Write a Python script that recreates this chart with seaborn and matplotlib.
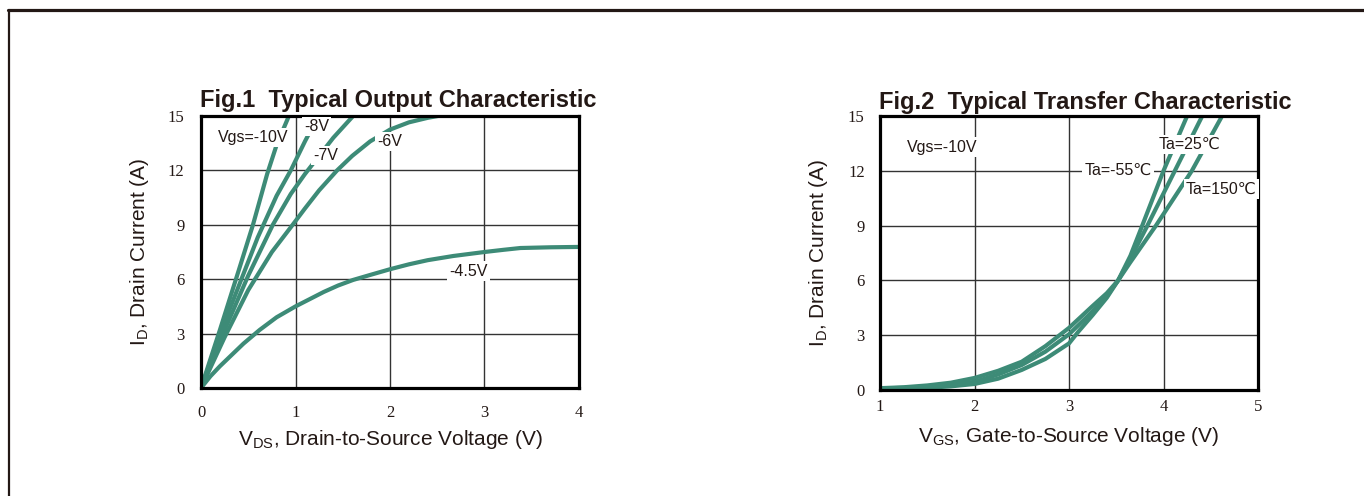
import matplotlib
matplotlib.use("Agg")
import matplotlib.pyplot as plt
from matplotlib.lines import Line2D
import seaborn as sns
import pandas as pd

# ---------------- data ----------------
# Fig.1 output characteristic (VDS in V, ID in A)
vgs_labels = ["-10V", "-8V", "-7V", "-6V", "-4.5V"]
vds_10 = [0, 0.2, 0.4, 0.55, 0.7, 0.8, 0.93]
id_10 = [0, 3.2, 6.5, 9.0, 11.8, 13.4, 15.0]
vds_8 = [0, 0.3, 0.6, 0.8, 0.95, 1.1, 1.24]
id_8 = [0, 4.3, 8.3, 10.6, 12.0, 13.6, 15.0]
vds_7 = [0, 0.25, 0.5, 0.76, 0.95, 1.1, 1.25, 1.4, 1.61]
id_7 = [0, 3.2, 6.2, 9.0, 10.7, 11.8, 12.8, 13.8, 15.0]
vds_6 = [0, 0.25, 0.5, 0.75, 0.97, 1.1, 1.25, 1.44, 1.6, 1.79, 2.0, 2.2, 2.4, 2.56, 3.0]
id_6 = [0, 2.8, 5.4, 7.5, 9.0, 9.9, 10.9, 12.0, 12.8, 13.6, 14.25, 14.65, 14.9, 15.05, 15.2]
vds_45 = [0, 0.1, 0.2, 0.31, 0.45, 0.62, 0.8, 1.0, 1.15, 1.3, 1.45, 1.61, 1.8, 2.0,
          2.2, 2.4, 2.67, 3.0, 3.2, 3.38, 3.7, 4.0]
id_45 = [0, 0.65, 1.2, 1.75, 2.45, 3.2, 3.9, 4.5, 4.9, 5.3, 5.65, 5.96, 6.25, 6.55,
         6.82, 7.05, 7.28, 7.5, 7.62, 7.72, 7.76, 7.78]

# Fig.2 transfer characteristic (VGS in V, ID in A)
ta_labels = ["Ta=-55℃", "Ta=25℃", "Ta=150℃"]
vgs_m55 = [1.0, 1.25, 1.5, 1.75, 2.0, 2.25, 2.5, 2.75, 3.0, 3.1, 3.25, 3.4, 3.52,
           3.65, 3.76, 4.0, 4.25, 4.4]
id_m55 = [0.05, 0.08, 0.12, 0.2, 0.33, 0.62, 1.1, 1.7, 2.55, 3.2, 4.1, 5.05, 6.0,
          7.35, 8.8, 12.0, 15.0, 17.0]
vgs_25 = [1.0, 1.25, 1.5, 1.75, 2.0, 2.25, 2.5, 2.75, 3.0, 3.25, 3.4, 3.52, 3.65,
          3.82, 4.12, 4.41, 4.6]
id_25 = [0.08, 0.12, 0.18, 0.28, 0.45, 0.85, 1.37, 2.1, 3.05, 4.3, 5.15, 6.0, 7.2,
         8.9, 12.0, 15.0, 17.0]
vgs_150 = [1.0, 1.25, 1.5, 1.75, 2.0, 2.25, 2.5, 2.75, 3.0, 3.25, 3.4, 3.52, 3.65,
           3.92, 4.30, 4.62, 4.8]
id_150 = [0.1, 0.15, 0.25, 0.4, 0.66, 1.05, 1.55, 2.4, 3.4, 4.6, 5.3, 6.0, 7.0,
          9.0, 12.0, 15.0, 16.6]

x1_ticks = [0, 1, 2, 3, 4]
x2_ticks = [1, 2, 3, 4, 5]
y_ticks = [0, 3, 6, 9, 12, 15]

# ---------------- build frames ----------------
df1 = pd.concat([
    pd.DataFrame({"x": vds_10, "y": id_10, "s": vgs_labels[0]}),
    pd.DataFrame({"x": vds_8, "y": id_8, "s": vgs_labels[1]}),
    pd.DataFrame({"x": vds_7, "y": id_7, "s": vgs_labels[2]}),
    pd.DataFrame({"x": vds_6, "y": id_6, "s": vgs_labels[3]}),
    pd.DataFrame({"x": vds_45, "y": id_45, "s": vgs_labels[4]}),
], ignore_index=True)
df2 = pd.concat([
    pd.DataFrame({"x": vgs_m55, "y": id_m55, "s": ta_labels[0]}),
    pd.DataFrame({"x": vgs_25, "y": id_25, "s": ta_labels[1]}),
    pd.DataFrame({"x": vgs_150, "y": id_150, "s": ta_labels[2]}),
], ignore_index=True)

sns.set_style("white")
plt.rcParams["font.family"] = ["Liberation Sans", "DejaVu Sans"]
plt.rcParams["mathtext.fontset"] = "custom"
plt.rcParams["mathtext.rm"] = "Liberation Sans"

TEAL = "#3d8b77"
INK = "#231815"
W, H = 1364, 496
fig = plt.figure(figsize=(W / 100, H / 100), dpi=100)
fig.patch.set_facecolor("white")

ax1 = fig.add_axes([201 / W, 1 - 388 / H, 378 / W, 272 / H])
ax2 = fig.add_axes([880 / W, 1 - 390 / H, 378 / W, 274 / H])

pal1 = {k: TEAL for k in vgs_labels}
pal2 = {k: TEAL for k in ta_labels}
sns.lineplot(data=df1, x="x", y="y", hue="s", palette=pal1, estimator=None,
             sort=False, lw=3.0, legend=False, ax=ax1, zorder=3)
sns.lineplot(data=df2, x="x", y="y", hue="s", palette=pal2, estimator=None,
             sort=False, lw=3.0, legend=False, ax=ax2, zorder=3)
for ax in (ax1, ax2):
    for ln in ax.get_lines():
        ln.set_solid_joinstyle("round")
        ln.set_solid_capstyle("round")


def style(ax, xt, xpad, ypad, ylpad):
    ax.set_xlim(xt[0], xt[-1])
    ax.set_ylim(0, 15)
    ax.set_xticks(xt)
    ax.set_yticks(y_ticks)
    ax.grid(True, color="#333333", lw=1.0)
    ax.set_axisbelow(True)
    for sp in ax.spines.values():
        sp.set_visible(True)
        sp.set_color("black")
        sp.set_linewidth(2.3)
        sp.set_zorder(5)
    ax.tick_params(axis="both", length=0, labelsize=12, colors=INK)
    ax.tick_params(axis="x", pad=xpad)
    ax.tick_params(axis="y", pad=ypad)
    for lab in ax.get_xticklabels() + ax.get_yticklabels():
        lab.set_family(["Liberation Serif", "DejaVu Serif"])
    ax.set_ylabel(r"I$_{\mathregular{D}}$, Drain Current (A)", fontsize=15,
                  color=INK, labelpad=ylpad)


style(ax1, x1_ticks, 12, 12, 12)
style(ax2, x2_ticks, 6.5, 11, 13)
ax1.set_xlabel(r"V$_{\mathregular{DS}}$, Drain-to-Source Voltage (V)",
               fontsize=15, color=INK, labelpad=5)
ax2.set_xlabel(r"V$_{\mathregular{GS}}$, Gate-to-Source Voltage (V)",
               fontsize=15, color=INK, labelpad=7)

ax1.text(-0.003, 1.013, "Fig.1  Typical Output Characteristic", transform=ax1.transAxes,
         fontsize=17, fontweight="bold", color=INK, ha="left", va="bottom")
ax2.text(-0.003, 1.008, "Fig.2  Typical Transfer Characteristic", transform=ax2.transAxes,
         fontsize=17, fontweight="bold", color=INK, ha="left", va="bottom")

box = dict(facecolor="white", edgecolor="none", pad=1.5)
lab_kw = dict(fontsize=11.5, color=INK, ha="center", va="center", bbox=box, zorder=6)
ax1.text(0.55, 13.8, "Vgs=" + vgs_labels[0], **lab_kw)
ax1.text(1.22, 14.4, vgs_labels[1], **lab_kw)
ax1.text(1.32, 12.8, vgs_labels[2], **lab_kw)
ax1.text(2.0, 13.6, vgs_labels[3], **lab_kw)
ax1.text(2.83, 6.45, vgs_labels[4], **lab_kw)

ax2.text(1.66, 13.3, "Vgs=-10V", **lab_kw)
ax2.text(3.52, 12.0, ta_labels[0], **lab_kw)
ax2.text(4.27, 13.46, ta_labels[1], **lab_kw)
ax2.text(4.61, 11.0, ta_labels[2], **lab_kw)

# page frame (top and left edges)
fig.add_artist(Line2D([8 / W, 1], [1 - 9.5 / H, 1 - 9.5 / H], color=INK, lw=2.3,
                      transform=fig.transFigure))
fig.add_artist(Line2D([9 / W, 9 / W], [0, 1 - 9.5 / H], color=INK, lw=1.6,
                      transform=fig.transFigure))

fig.savefig("out.png", dpi=100, facecolor="white")
